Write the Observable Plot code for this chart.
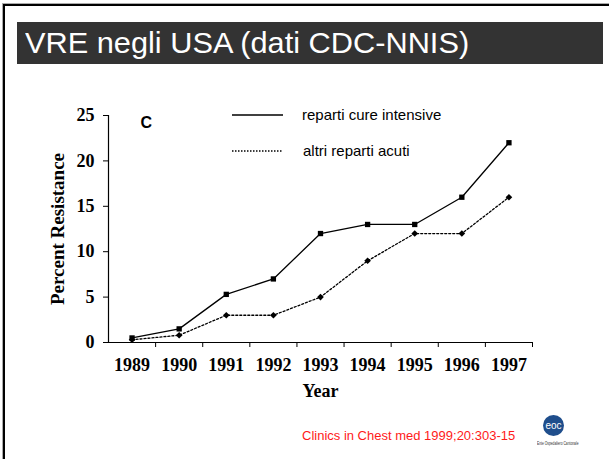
<!DOCTYPE html>
<html>
<head>
<meta charset="utf-8">
<script src="https://cdn.jsdelivr.net/npm/d3@7"></script>
<script src="https://cdn.jsdelivr.net/npm/@observablehq/plot@0.6"></script>
<style>
  html, body { margin:0; padding:0; background:#fff; }
  #slide { position:relative; width:609px; height:459px; overflow:hidden; background:#fff; font-family:"Liberation Sans", Arial, sans-serif; }
  #frame { position:absolute; left:3px; top:4px; width:620px; height:470px; border-top:2px solid #000; border-left:2px solid #000; box-shadow:-1px -1px 0 #aaa; }
  #titlebar { position:absolute; left:17px; top:22px; width:586px; height:42px; background:#333; color:#fff; font-size:29px; line-height:42px; padding-left:8px; box-sizing:border-box; white-space:nowrap; }
  #titletext { display:inline-block; transform:scaleX(1.06); transform-origin:0 50%; }
  #chart { position:absolute; left:0; top:0; }
  .leg { position:absolute; font-size:15px; color:#000; white-space:nowrap; }
  #caption { position:absolute; left:302px; top:428px; color:#ff1a1a; font-size:13px; white-space:nowrap; }
  #logo { position:absolute; left:543px; top:415px; width:21px; height:21px; border-radius:50%; background:#1f4e8c; color:#fff; font-size:10px; line-height:21px; text-align:center; }
  #logotxt { position:absolute; left:537px; top:440px; font-size:5px; color:#333; white-space:nowrap; transform:scaleX(0.66); transform-origin:0 0; }
</style>
</head>
<body>
<div id="slide">
  <div id="frame"></div>
  <div id="titlebar"><span id="titletext">VRE negli USA (dati CDC-NNIS)</span></div>
  <div id="chart"></div>
  <svg style="position:absolute;left:0;top:0" width="609" height="459">
    <line x1="232" y1="115" x2="283" y2="115" stroke="#000" stroke-width="1.6"/>
    <line x1="232" y1="151" x2="283" y2="151" stroke="#000" stroke-width="1.3" stroke-dasharray="1.5,1.5"/>
  </svg>
  <div class="leg" style="left:302px; top:106px;">reparti cure intensive</div>
  <div class="leg" style="left:303px; top:142px;">altri reparti acuti</div>
  <div id="caption">Clinics in Chest med 1999;20:303-15</div>
  <div id="logo">eoc</div>
  <div id="logotxt">Ente Ospedaliero Cantonale</div>
</div>
<script>
const years = [1989, 1990, 1991, 1992, 1993, 1994, 1995, 1996, 1997];
const intensive = [0.5, 1.5, 5.3, 7, 12, 13, 13, 16, 22];
const otherAcute = [0.3, 0.8, 3, 3, 5, 9, 12, 12, 16];
const yTicks = [0, 5, 10, 15, 20, 25];

const dataA = years.map((y, i) => ({year: y, value: intensive[i]}));
const dataB = years.map((y, i) => ({year: y, value: otherAcute[i]}));
const bounds = years.map(y => y + 0.5);
const xDomain = [years[0] - 0.5, years[years.length - 1] + 0.5];

const serif = "'Liberation Serif', 'Times New Roman', serif";

const chart = Plot.plot({
  width: 609,
  height: 459,
  marginLeft: 108,
  marginRight: 77,
  marginTop: 115,
  marginBottom: 117,
  style: {background: "transparent", color: "#000", fontFamily: serif},
  x: {domain: xDomain},
  y: {domain: [0, 25]},
  marks: [
    Plot.ruleX([xDomain[0]], {stroke: "#000", strokeWidth: 1.2}),
    Plot.ruleY([0], {stroke: "#000", strokeWidth: 1.2}),
    Plot.axisY({ticks: yTicks, tickSize: 5, tickPadding: 9, fontSize: 18, fontWeight: "bold", label: null, fontFamily: serif}),
    Plot.axisX({ticks: bounds, tickSize: 5, tickFormat: () => "", label: null}),
    Plot.axisX({ticks: years, tickSize: 0, tickPadding: 16, tickFormat: d => String(d), fontSize: 18, fontWeight: "bold", label: null, fontFamily: serif}),
    Plot.text(["Year"], {frameAnchor: "bottom", dy: 49, fontSize: 18, fontWeight: "bold", fontFamily: serif, lineAnchor: "middle"}),
    Plot.text(["Percent Resistance"], {frameAnchor: "left", dx: -51, rotate: -90, textAnchor: "middle", fontSize: 19, fontWeight: "bold", fontFamily: serif}),
    Plot.text(["C"], {frameAnchor: "top-left", dx: 32, dy: 1, lineAnchor: "top", textAnchor: "start", fontSize: 16, fontWeight: "bold", fontFamily: "'Liberation Sans', Arial, sans-serif"}),
    Plot.line(dataA, {x: "year", y: "value", stroke: "#000", strokeWidth: 1.3}),
    Plot.line(dataB, {x: "year", y: "value", stroke: "#000", strokeWidth: 1.3, strokeDasharray: "2,2"}),
    Plot.dot(dataA, {x: "year", y: "value", symbol: "square", r: 3, fill: "#000"}),
    Plot.dot(dataB, {x: "year", y: "value", symbol: "diamond2", r: 3, fill: "#000"})
  ]
});
document.getElementById("chart").appendChild(chart);
</script>
</body>
</html>
